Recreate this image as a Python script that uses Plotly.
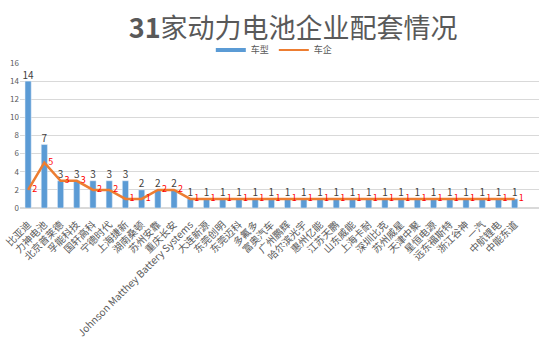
import plotly.graph_objects as go

categories = ["比亚迪", "力神电池", "北京普莱德", "孚能科技", "国轩高科", "宁德时代", "上海捷新",
              "湖南桑顿", "苏州安靠", "重庆长安", "Johnson Matthey Battery Systems", "大连新源",
              "东莞创明", "东莞迈科", "多氟多", "富奥汽车", "广州鹏辉", "哈尔滨光宇", "惠州亿能",
              "江苏天鹏", "山东威能", "上海卡耐", "深圳比克", "苏州威星", "天津中聚", "星恒电源",
              "远东福斯特", "浙江谷神", "一汽", "中航锂电", "中能东道"]
car_models = [14, 7, 3, 3, 3, 3, 3, 2, 2, 2] + [1] * 21
car_makers = [2, 5, 3, 3, 2, 2, 1, 1, 2, 2] + [1] * 21

BLUE = "#5B9BD5"
ORANGE = "#ED7D31"
FONT = "Noto Sans CJK SC"

fig = go.Figure()
fig.add_trace(go.Bar(
    x=categories, y=car_models, name="车型", marker_color=BLUE, width=0.38,
    showlegend=False))
# bar value labels
fig.add_trace(go.Scatter(
    x=categories, y=car_models, mode="text", text=car_models,
    textposition="top center", cliponaxis=False, showlegend=False,
    textfont=dict(size=10, color="#404040", family=FONT)))
fig.add_trace(go.Scatter(
    x=categories, y=car_makers, name="车企", mode="lines+text",
    line=dict(color=ORANGE, width=2.5),
    text=car_makers, texttemplate="  %{text}", textposition="middle right",
    cliponaxis=False,
    textfont=dict(size=9, color="#FF0000", family=FONT), showlegend=False))
# legend entries
fig.add_trace(go.Scatter(x=[None], y=[None], mode="lines", name="车型",
                         line=dict(color=BLUE, width=4)))
fig.add_trace(go.Scatter(x=[None], y=[None], mode="lines", name="车企",
                         line=dict(color=ORANGE, width=2)))

fig.update_layout(
    width=550, height=341,
    margin=dict(l=20, r=11, t=63, b=133, autoexpand=False),
    plot_bgcolor="white", paper_bgcolor="white",
    font=dict(family=FONT, color="#595959"),
    title=dict(text="<b>31</b>家动力电池企业配套情况", x=0.533, xanchor="center",
               y=0.915, yanchor="middle",
               font=dict(size=27, color="#595959", family=FONT)),
    legend=dict(orientation="h", x=0.49, xanchor="center", y=1.09, yanchor="middle",
                font=dict(size=9, color="#595959"), itemwidth=30, tracegroupgap=0),
)
fig.update_xaxes(range=[-0.5, 31.5], tickangle=-45, tickfont=dict(size=10, color="#595959"),
                 showgrid=False, showline=False, ticks="", ticklabelstandoff=8,
                 automargin=False)
fig.update_yaxes(range=[0, 16], dtick=2, gridcolor="#D9D9D9", gridwidth=1,
                 zeroline=True, zerolinecolor="#D9D9D9", automargin=False,
                 tickfont=dict(size=8, color="#595959"), ticks="")

fig.write_html("out.html")
